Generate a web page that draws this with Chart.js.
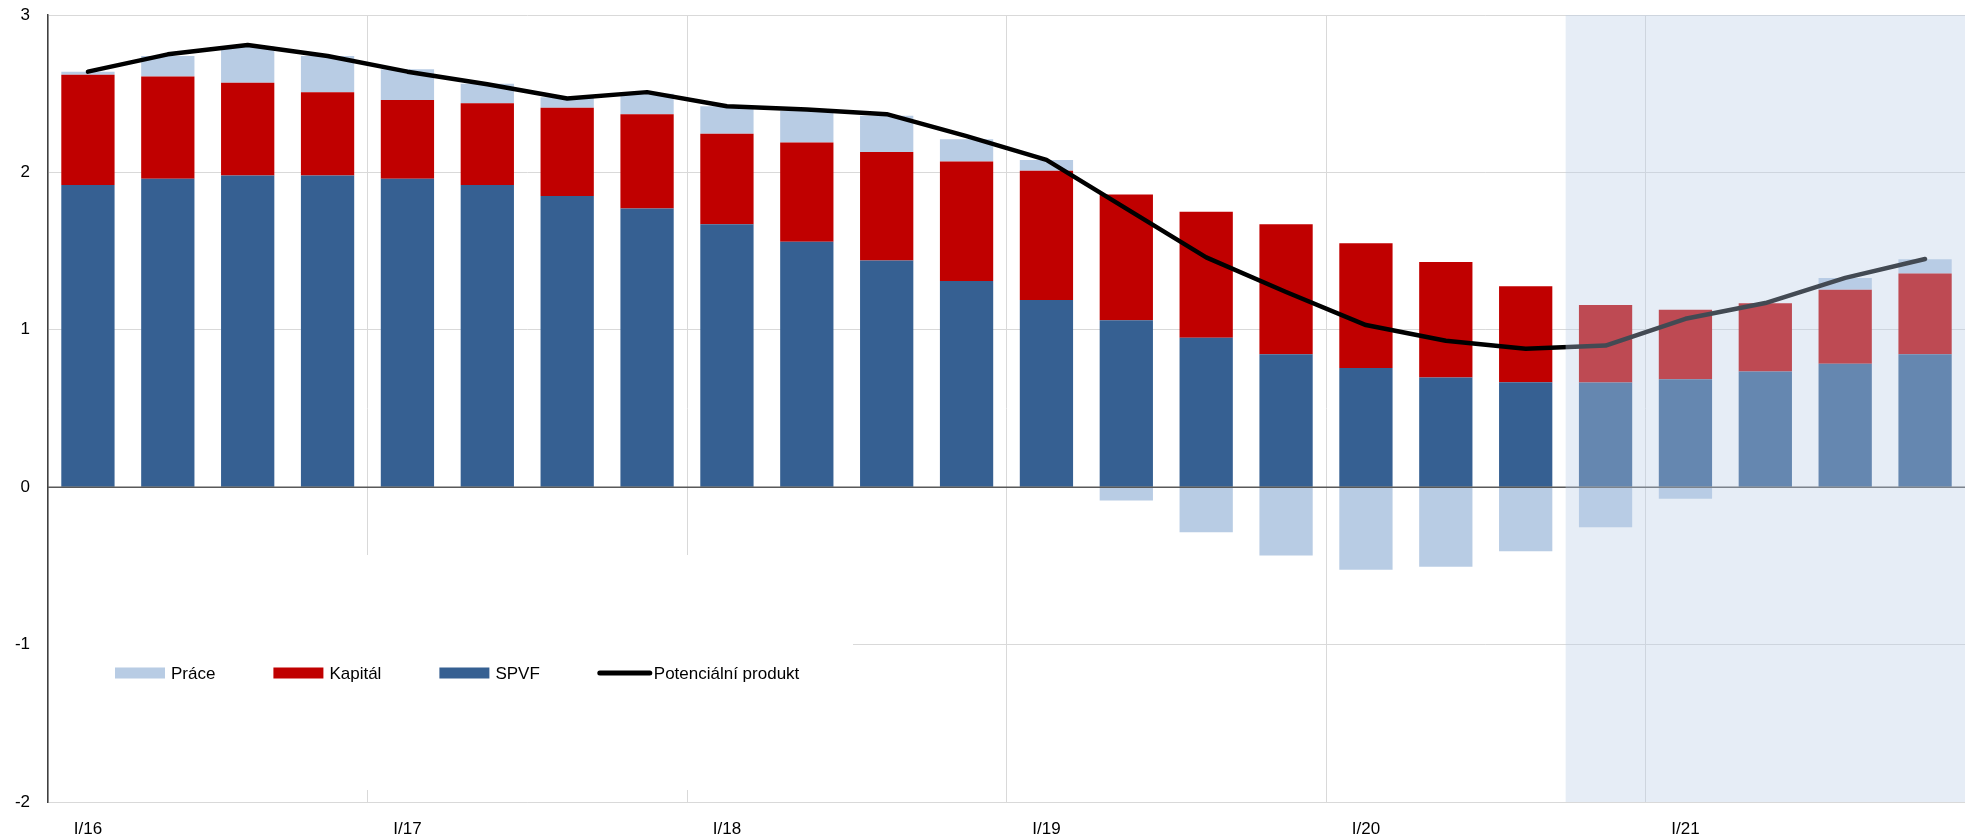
<!DOCTYPE html>
<html lang="cs">
<head>
<meta charset="utf-8">
<title>Potenciální produkt</title>
<script src="https://cdn.jsdelivr.net/npm/chart.js@4.4.1/dist/chart.umd.min.js"></script>
<style>
  html, body { margin: 0; padding: 0; background: #fff; }
  #wrap { width: 1965px; height: 839px; }
</style>
</head>
<body>
<div id="wrap"><canvas id="potChart" width="1965" height="839"></canvas></div>
<script>
// quarters I/16 .. IV/21
const quarters = [
    'I/16', 'II/16', 'III/16', 'IV/16',
    'I/17', 'II/17', 'III/17', 'IV/17',
    'I/18', 'II/18', 'III/18', 'IV/18',
    'I/19', 'II/19', 'III/19', 'IV/19',
    'I/20', 'II/20', 'III/20', 'IV/20',
    'I/21', 'II/21', 'III/21', 'IV/21'
];

const prace = [0.02, 0.13, 0.23, 0.23, 0.195, 0.124, 0.068, 0.13, 0.175, 0.20, 0.23, 0.14,
               0.068, -0.085, -0.286, -0.434, -0.525, -0.506, -0.407, -0.254, -0.074, 0.0, 0.075, 0.091];
const kapital = [0.70, 0.65, 0.59, 0.53, 0.50, 0.52, 0.56, 0.60, 0.575, 0.63, 0.69, 0.76,
                 0.82, 0.80, 0.80, 0.825, 0.793, 0.733, 0.609, 0.492, 0.441, 0.433, 0.47, 0.513];
const spvf = [1.92, 1.96, 1.98, 1.98, 1.96, 1.92, 1.85, 1.77, 1.67, 1.56, 1.44, 1.31,
              1.19, 1.06, 0.95, 0.845, 0.757, 0.697, 0.667, 0.665, 0.686, 0.735, 0.784, 0.845];
const potencialniProdukt = [2.64, 2.75, 2.81, 2.74, 2.64, 2.56, 2.47, 2.51, 2.42, 2.40, 2.37, 2.23,
                            2.08, 1.77, 1.46, 1.24, 1.03, 0.93, 0.88, 0.90, 1.07, 1.17, 1.33, 1.45];

const yMin = -2;
const yMax = 3;
const forecastStart = 'IV/20';

// legend shows Práce, Kapitál, SPVF, line (dataset indexes)
const legendOrder = [2, 1, 0, 3];

const FONT = '"Liberation Sans", Arial, sans-serif';

const extrasPlugin = {
    id: 'extras',
    beforeDatasetsDraw(chart) {
        // white box behind the legend hides the grid there
        const {ctx, chartArea} = chart;
        ctx.save();
        ctx.fillStyle = '#ffffff';
        ctx.fillRect(chartArea.left + 1, chartArea.bottom - 247, 804, 235);
        ctx.restore();
    },
    afterDatasetsDraw(chart) {
        const {ctx, chartArea, scales} = chart;
        const y0 = scales.y.getPixelForValue(0);
        ctx.save();
        ctx.strokeStyle = '#595959';
        ctx.lineWidth = 1.5;
        ctx.beginPath();
        ctx.moveTo(chartArea.left, y0);
        ctx.lineTo(chartArea.right, y0);
        ctx.stroke();

        // forecast shading drawn over the marks
        const idx = quarters.indexOf(forecastStart);
        const half = (scales.x.getPixelForValue(1) - scales.x.getPixelForValue(0)) / 2;
        const xs = scales.x.getPixelForValue(idx) - half;
        ctx.fillStyle = 'rgba(185, 206, 230, 0.36)';
        ctx.fillRect(xs, chartArea.top, chartArea.right - xs, chartArea.bottom - chartArea.top);
        ctx.restore();
    },
    afterDraw(chart) {
        const {ctx, chartArea} = chart;
        ctx.save();
        ctx.font = '17px ' + FONT;
        ctx.textBaseline = 'middle';
        ctx.textAlign = 'left';
        let x = chartArea.left + 67;
        const y = chartArea.bottom - 129;
        legendOrder.forEach(function(i) {
            const ds = chart.data.datasets[i];
            if (ds.type === 'line') {
                ctx.strokeStyle = ds.borderColor;
                ctx.lineWidth = 5;
                ctx.lineCap = 'round';
                ctx.beginPath();
                ctx.moveTo(x + 2, y);
                ctx.lineTo(x + 52, y);
                ctx.stroke();
            } else {
                ctx.fillStyle = ds.backgroundColor;
                ctx.fillRect(x, y - 5.5, 50, 11);
            }
            ctx.fillStyle = '#000000';
            ctx.fillText(ds.label, x + 56, y + 1);
            x += 56 + ctx.measureText(ds.label).width + 58;
        });
        ctx.restore();
    }
};

const ctx = document.getElementById('potChart').getContext('2d');

new Chart(ctx, {
    type: 'bar',
    data: {
        labels: quarters,
        datasets: [
            {
                label: 'SPVF',
                data: spvf,
                backgroundColor: '#366092',
                stack: 'bars'
            },
            {
                label: 'Kapitál',
                data: kapital,
                backgroundColor: '#C00000',
                stack: 'bars'
            },
            {
                label: 'Práce',
                data: prace,
                backgroundColor: '#B8CCE4',
                stack: 'bars'
            },
            {
                type: 'line',
                label: 'Potenciální produkt',
                data: potencialniProdukt,
                borderColor: '#000000',
                backgroundColor: '#000000',
                borderWidth: 4.5,
                borderCapStyle: 'round',
                borderJoinStyle: 'round',
                pointRadius: 0,
                tension: 0,
                stack: 'line',
                order: -1
            }
        ]
    },
    options: {
        responsive: false,
        animation: false,
        layout: {
            padding: { top: 15, right: 0, left: 0, bottom: 0 }
        },
        datasets: {
            bar: {
                categoryPercentage: 1.0,
                barPercentage: 0.667
            }
        },
        plugins: {
            legend: { display: false },
            tooltip: { enabled: false }
        },
        scales: {
            x: {
                stacked: true,
                afterFit: function(scale) { scale.height = 37; },
                border: { color: '#d9d9d9', width: 1 },
                grid: {
                    offset: true,
                    drawTicks: false,
                    color: function(c) {
                        return (c.index % 4 === 0 && c.index < quarters.length) ? '#d9d9d9' : 'rgba(0,0,0,0)';
                    }
                },
                ticks: {
                    autoSkip: false,
                    maxRotation: 0,
                    padding: 17,
                    color: '#000000',
                    font: { family: FONT, size: 17 },
                    callback: function(value, index) {
                        return index % 4 === 0 ? quarters[index] : '';
                    }
                }
            },
            y: {
                stacked: true,
                min: yMin,
                max: yMax,
                afterFit: function(scale) {
                    scale.width = 48;
                    scale.paddingTop = 0;
                    scale.paddingBottom = 0;
                },
                border: { color: '#404040', width: 1.5 },
                grid: {
                    drawTicks: false,
                    color: '#d9d9d9'
                },
                ticks: {
                    stepSize: 1,
                    padding: 18,
                    color: '#000000',
                    font: { family: FONT, size: 17 },
                    callback: function(value) { return String(value); }
                }
            }
        }
    },
    plugins: [extrasPlugin]
});
</script>
</body>
</html>
